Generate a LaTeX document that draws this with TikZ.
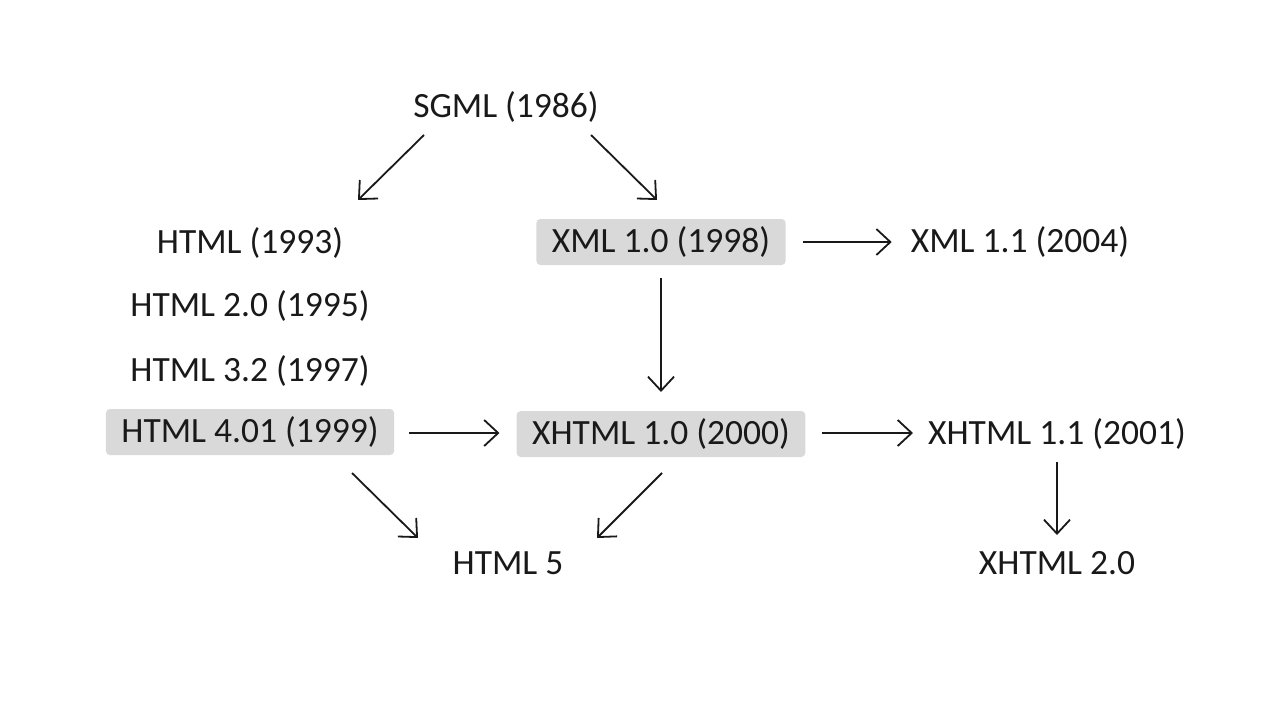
\documentclass[tikz,border=0pt]{standalone}
\usepackage{fontspec}
\setmainfont{Carlito}
\usetikzlibrary{arrows.meta,calc}
\definecolor{txt}{RGB}{25,25,25}
\definecolor{boxfill}{RGB}{217,217,217}
\tikzset{
  lbl/.style={text=txt, font=\fontsize{35.5}{42}\selectfont, inner sep=0pt, anchor=center},
  hl/.style={lbl, fill=boxfill, rounded corners=4pt, inner xsep=15.5pt, minimum height=46pt},
  arr/.style={draw=txt, line width=1.8pt, -{Straight Barb[length=14pt,width=26pt,line width=1.8pt]}}
}
\begin{document}
\begin{tikzpicture}[x=1pt,y=-1pt]
\useasboundingbox (0,0) rectangle (1280,720);
\node[lbl] (sgml) at (506,107) {SGML (1986)};
\node[lbl] (html) at (250,243) {HTML (1993)};
\node[lbl] (html2) at (250,306) {HTML 2.0 (1995)};
\node[lbl] (html32) at (250,371) {HTML 3.2 (1997)};
\node[hl] (html4) at (250,432) {HTML 4.01 (1999)};
\node[hl] (xml) at (661,242) {XML 1.0 (1998)};
\node[lbl] (xml11) at (1020,242) {XML 1.1 (2004)};
\node[hl] (xhtml) at (661,434) {XHTML 1.0 (2000)};
\node[lbl] (xhtml11) at (1057,434) {XHTML 1.1 (2001)};
\node[lbl] (html5) at (508,563) {HTML 5};
\node[lbl] (xhtml2) at (1057,563) {XHTML 2.0};

\draw[arr] ($(sgml)+(-82,28)$) -- ($(html)+(108,-43)$);
\draw[arr] ($(sgml)+(85,28)$) -- ($(xml)+(-4,-42)$);
\draw[arr] ($(xml.east)+(17,0)$) -- ($(xml11.west)+(-19,0)$);
\draw[arr] ($(xml)+(0,36)$) -- ($(xhtml)+(0,-42)$);
\draw[arr] ($(html4.east)+(15,1)$) -- ($(xhtml.west)+(-17,-1)$);
\draw[arr] ($(xhtml.east)+(16,-1)$) -- ($(xhtml11.west)+(-15,-1)$);
\draw[arr] ($(html4)+(102,41)$) -- ($(html5)+(-90,-25)$);
\draw[arr] ($(xhtml)+(1,39)$) -- ($(html5)+(89,-25)$);
\draw[arr] ($(xhtml11)+(0,28)$) -- ($(xhtml2)+(0,-28)$);
\end{tikzpicture}
\end{document}
